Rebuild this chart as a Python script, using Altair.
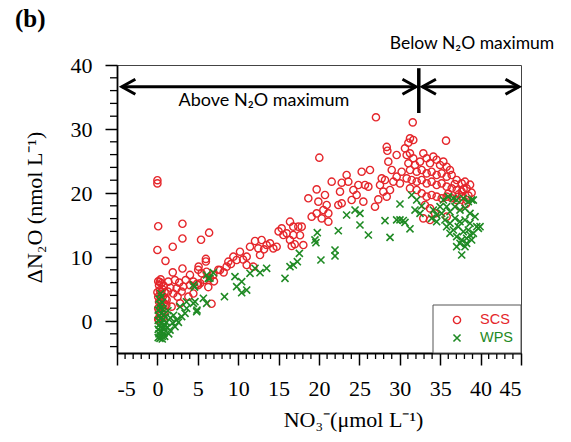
import altair as alt
import pandas as pd

# ---------------- data ----------------
scs_no3 = [
    0.0, 0.0, 0.1, 0.0, 1.0, 1.9, 3.1, 3.1, 5.4, 6.4, 1.9, 3.1, 6.0, 6.0, 5.1, 6.7,
    0.1, 0.3, 0.2, 0.5, 0.1, 0.4, 0.6, 0.2, 0.5, 0.8, 0.1, 0.4, 0.7, 0.3, 0.6, 0.2,
    0.5, 0.1, 0.8, 0.9, 1.0, 1.1, 0.9, 0.2, 0.4, 0.0, 0.7, 0.3,
    1.35, 2.17, 2.38, 3.2, 4.03, 4.03, 4.45, 3.83, 2.8, 1.97, 1.14, 1.76, 5.05, 5.47,
    6.08, 6.5, 6.92, 7.54, 4.45, 5.05, 4.9, 5.3, 6.3, 2.7, 3.5, 1.6, 2.5, 3.0, 1.3,
    5.8, 7.0,
    7.75, 8.57, 8.78, 9.4, 9.81, 10.22, 8.2, 9.1,
    12.08, 12.9, 11.46, 12.49, 13.52, 14.35, 12.7, 11.05, 11.05, 15.38, 16.41, 16.82,
    17.44, 17.86, 15.59, 16.41, 16.82, 16.62, 18.06, 11.87, 13.94, 14.76, 16.0, 17.65,
    17.0, 15.0, 10.6, 13.2,
    18.68, 19.71, 20.74, 19.92, 20.95, 19.09, 19.71, 20.54, 21.16, 20.33, 21.16, 21.57,
    22.6, 22.39, 22.81, 23.42, 22.81, 23.63, 24.25, 24.66, 24.04, 25.28, 24.87, 25.49,
    25.69, 20.04,
    27.05, 31.6, 35.72, 31.26, 31.67, 31.06, 28.38, 28.46,
    30.85, 31.26, 31.67, 31.06, 31.88, 32.5, 32.91, 33.32, 33.74, 34.15, 34.56, 34.98,
    35.39, 35.8, 36.21, 31.26, 32.09, 32.71, 33.32, 33.94, 34.56, 35.18, 35.8, 36.42,
    37.04, 37.66, 38.07, 30.85, 31.47, 32.09, 32.71, 33.32, 33.94, 34.56, 35.18, 35.8,
    36.42, 37.04, 37.66, 38.27, 38.89, 31.26, 32.09, 32.71, 33.32, 33.94, 34.56, 35.18,
    35.8, 36.42, 37.04, 37.66, 38.27, 33.12, 33.74, 32.91, 33.74, 34.36, 35.8,
    29.2, 29.61, 30.02, 28.79, 28.17, 27.76, 27.55, 27.96, 28.38, 26.93, 27.34,
    26.11, 26.31, 29.0, 30.23, 30.64, 28.58, 29.61,
    37.3, 37.9, 38.5, 38.7, 36.8, 36.0, 38.2, 37.4,
]
scs_dn2o = [
    22.0, 21.5, 14.8, 11.1, 9.4, 11.6, 15.2, 12.9, 12.7, 13.8, 7.6, 8.2, 9.7, 9.3, 8.5, 2.7,
    0.3, 0.8, 1.5, 1.2, 2.0, 2.4, 2.0, 3.0, 3.3, 2.8, 3.8, 4.2, 3.9, 4.8, 5.0, 5.6,
    5.9, 6.2, 5.5, 4.5, 3.5, 2.5, 1.5, 0.0, 6.5, 4.5, 0.5, 6.1,
    6.15, 6.4, 5.1, 5.4, 7.2, 5.6, 6.15, 3.8, 2.76, 4.3, 3.3, 2.24, 8.0, 7.45,
    7.7, 6.7, 7.2, 8.0, 4.3, 5.6, 5.8, 5.9, 5.3, 6.0, 6.4, 5.2, 3.8, 4.6, 4.6,
    6.4, 6.2,
    7.97, 8.49, 9.27, 10.05, 9.53, 10.83, 7.6, 8.9,
    12.5, 12.66, 11.61, 11.35, 11.87, 11.35, 10.31, 10.05, 8.75, 14.48, 15.52, 14.74,
    14.74, 14.74, 13.44, 12.66, 13.44, 11.72, 11.87, 8.49, 12.14, 11.6, 13.7, 13.4,
    12.0, 14.0, 9.6, 11.2,
    19.17, 20.57, 19.69, 18.65, 18.13, 16.3, 16.82, 17.34, 16.82, 16.04, 15.52, 21.77,
    20.21, 18.13, 18.39, 22.81, 21.61, 21.77, 20.47, 19.69, 18.91, 23.33, 21.25, 18.65,
    21.25, 25.52,
    31.83, 31.04, 28.18, 28.54, 28.28, 27.86, 27.2, 26.6,
    25.94, 26.2, 25.42, 24.64, 24.38, 24.9, 26.2, 25.42, 24.64, 25.68, 25.2, 24.38,
    24.9, 24.11, 23.59, 23.59, 23.33, 23.59, 23.07, 23.33, 22.81, 23.07, 22.55, 22.81,
    22.03, 21.51, 21.77, 22.29, 22.03, 21.77, 22.03, 21.51, 21.77, 21.25, 21.51, 20.99,
    20.73, 20.47, 20.21, 20.73, 20.05, 20.73, 20.47, 19.95, 19.43, 19.69, 19.43, 19.17,
    19.43, 19.17, 18.91, 19.43, 18.91, 18.13, 17.6, 16.04, 15.78, 16.82, 16.3,
    21.77, 22.55, 21.51, 20.47, 22.03, 22.29, 21.25, 20.21, 19.43, 17.86, 19.01,
    20.99, 23.59, 23.59, 23.33, 26.98, 24.9, 25.94,
    19.8, 20.6, 19.6, 21.3, 21.4, 19.9, 18.3, 17.9,
]
wps_no3 = [
    0.32, 0.1, 0.6, 0.2, 0.5, 0.8, 0.1, 0.4, 0.7, 0.2, 0.5, 0.9, 0.1, 0.4, 0.7, 0.2,
    0.5, 0.8, 0.1, 0.4, 0.7, 0.3, 0.6, 0.2, 0.5, 0.4, 0.9, 1.0, 1.1, 0.6, 0.3, 0.8,
    1.56, 2.18, 2.38, 3.0, 3.42, 3.62, 1.4, 1.6, 2.0, 2.8, 3.6, 1.3, 1.9, 2.6, 1.2,
    4.45, 4.86, 4.65, 5.69, 6.1, 4.45, 4.6, 6.1, 6.3, 6.92, 6.5, 4.9, 8.3,
    9.6, 9.81, 10.43, 11.05, 10.43, 12.08, 13.52, 11.46, 12.7, 15.79, 16.41, 16.82,
    17.32, 17.57, 19.5, 19.62, 19.79, 20.24, 21.98, 21.98, 22.39, 23.42, 24.46, 25.07,
    25.07, 26.11,
    28.17, 28.79, 30.02, 29.61, 30.02, 30.43, 30.64, 31.26, 31.47, 32.09, 32.71, 31.88,
    32.5,
    34.15, 34.56, 33.94, 34.98, 35.39, 36.0, 36.62, 37.04, 37.86, 38.48, 38.89, 34.56,
    35.18, 35.8, 36.21, 36.83, 37.45, 38.07, 38.69, 39.31, 35.59, 36.21, 36.83, 37.45,
    38.07, 38.69, 39.52, 35.8, 36.62, 37.24, 37.86, 38.48, 39.1, 37.04, 37.66, 38.27,
    38.89, 37.45, 38.07, 37.04, 37.66, 38.27, 36.21, 39.72, 38.69, 39.93, 39.1,
]
wps_dn2o = [
    -2.7, -2.6, -2.4, -2.0, -1.7, -1.9, -1.3, -1.0, -1.2, -0.6, -0.3, -0.6, 0.1, 0.4, 0.2, 0.9,
    1.2, 1.0, 1.7, 2.0, 1.8, 2.6, 2.9, 3.4, 3.8, 4.3, -2.4, 0.6, -0.2, -2.8, -1.6, -0.9,
    -1.41, -0.89, 0.16, 0.68, 1.2, 1.98, -2.0, 0.5, 0.9, 2.24, 3.0, 1.6, -0.3, -0.2, -1.0,
    2.76, 1.46, 3.02, 3.54, 2.76, 5.63, 5.3, 7.19, 6.67, 7.55, 6.7, 1.7, 3.8,
    6.93, 5.37, 6.14, 4.83, 4.42, 8.23, 8.23, 7.45, 7.55, 6.67, 8.49, 8.75,
    9.27, 10.57, 12.66, 12.24, 13.8, 9.53, 11.09, 10.16, 14.1, 16.56, 17.34, 16.82,
    15.0, 13.44,
    15.67, 13.07, 18.28, 15.8, 15.8, 15.7, 15.4, 14.4, 19.69, 18.91, 17.97, 17.34,
    16.82,
    17.34, 16.56, 16.04, 17.86, 18.91, 19.43, 19.17, 18.91, 19.17, 18.65, 18.91, 15.52,
    16.82, 17.86, 17.08, 17.86, 17.34, 17.6, 16.82, 16.3, 15.78, 15.26, 16.04, 15.52,
    15.78, 15.26, 14.74, 14.74, 14.22, 14.74, 13.96, 14.22, 13.7, 13.18, 12.66, 12.92,
    12.66, 12.14, 11.61, 11.61, 10.31, 12.14, 13.7, 14.48, 13.44, 14.74, 18.9,
]

series_names = ["SCS", "WPS"]
x_ticks = [-5, 0, 5, 10, 15, 20, 25, 30, 35, 40, 45]
y_ticks = [0, 10, 20, 30, 40]
x_minor = [v for v in range(-5, 46) if v % 5 != 0]
y_minor = [v for v in range(-4, 40, 2) if v % 10 != 0]

# annotation anchors (data units)
arrow_y = 36.6
left_arrow = (-4.4, 32.0)
right_arrow = (32.8, 44.75)
divider_x = 32.35
divider_y = (39.5, 32.5)

RED = "#e5262b"
GREEN = "#1f8a24"
SERIF = "Liberation Serif"
SANS = "Lato"

scs_df = pd.DataFrame({"no3": scs_no3, "dn2o": scs_dn2o})
wps_df = pd.DataFrame({"no3": wps_no3, "dn2o": wps_dn2o})

xs = alt.Scale(domain=[-5, 45], nice=False, zero=False)
ys = alt.Scale(domain=[-5, 40], nice=False, zero=False)

x_axis = alt.Axis(
    values=x_ticks, tickSize=12, labelPadding=13, labelExpr="'' + datum.value",
    title="NO₃⁻(μmol L⁻¹)", titleX=236, titleY=73, titleBaseline="alphabetic",
    titleAnchor="middle", titleAlign="center",
)
y_axis = alt.Axis(
    values=y_ticks, tickSize=12, labelPadding=13, labelExpr="'' + datum.value",
    title="ΔN₂O (nmol L⁻¹)", titleX=-83, titleY=142, titleAngle=270,
    titleAlign="center", titleBaseline="middle",
)

X = lambda: alt.X("no3:Q", scale=xs)
Y = lambda: alt.Y("dn2o:Q", scale=ys)

CSIZE = 52
XSIZE = 50

scs = alt.Chart(scs_df).mark_point(
    shape="circle", filled=False, size=CSIZE, strokeWidth=1.4, color=RED, opacity=1
).encode(
    x=alt.X("no3:Q", scale=xs, axis=x_axis),
    y=alt.Y("dn2o:Q", scale=ys, axis=y_axis),
)

XSHAPE = "M-1,-1L1,1M-1,1L1,-1"
wps = alt.Chart(wps_df).mark_point(
    shape=XSHAPE, filled=False, size=XSIZE, strokeWidth=1.6, color=GREEN, opacity=1
).encode(x=X(), y=Y())

xminor = alt.Chart(pd.DataFrame({"no3": x_minor})).mark_rule(color="black", strokeWidth=1.3).encode(
    x=X(), y=alt.value(288), y2=alt.value(294)
)
yminor = alt.Chart(pd.DataFrame({"dn2o": y_minor})).mark_rule(color="black", strokeWidth=1.3).encode(
    y=Y(), x=alt.value(-7), x2=alt.value(0)
)

shaft_df = pd.DataFrame({
    "no3": [left_arrow[0], right_arrow[0]],
    "no3_end": [left_arrow[1], right_arrow[1]],
    "dn2o": [arrow_y, arrow_y],
})
shafts = alt.Chart(shaft_df).mark_rule(color="black", strokeWidth=3).encode(
    x=X(), x2="no3_end:Q", y=Y()
)
lhead_df = pd.DataFrame({"no3": [left_arrow[0], right_arrow[0]], "dn2o": [arrow_y, arrow_y]})
rhead_df = pd.DataFrame({"no3": [left_arrow[1], right_arrow[1]], "dn2o": [arrow_y, arrow_y]})
lheads = alt.Chart(lhead_df).mark_point(
    shape="M1.8,-1L0,0L1.8,1", filled=False, size=225, strokeWidth=3, color="black",
    opacity=1, strokeJoin="miter"
).encode(x=X(), y=Y())
rheads = alt.Chart(rhead_df).mark_point(
    shape="M-1.8,-1L0,0L-1.8,1", filled=False, size=225, strokeWidth=3, color="black",
    opacity=1, strokeJoin="miter"
).encode(x=X(), y=Y())

vline = alt.Chart(pd.DataFrame({"no3": [divider_x], "dn2o": [divider_y[0]], "dn2o_end": [divider_y[1]]})).mark_rule(
    color="black", strokeWidth=3.5
).encode(x=X(), y=Y(), y2="dn2o_end:Q")

one = pd.DataFrame({"a": [0]})
above_txt = alt.Chart(one).mark_text(
    text="Above N₂O maximum", font=SANS, fontSize=18, color="black", align="center", baseline="middle"
).encode(x=alt.value(147), y=alt.value(36))
below_txt = alt.Chart(one).mark_text(
    text="Below N₂O maximum", font=SANS, fontSize=17.5, color="black", align="center", baseline="middle"
).encode(x=alt.value(355), y=alt.value(-21))
b_txt = alt.Chart(one).mark_text(
    text="(b)", font=SERIF, fontSize=25, fontWeight="bold", color="black", align="left", baseline="middle"
).encode(x=alt.value(-102), y=alt.value(-46))

leg_box = alt.Chart(one).mark_rect(fill="white", stroke="#555555", strokeWidth=1).encode(
    x=alt.value(316), x2=alt.value(404), y=alt.value(240), y2=alt.value(288)
)
leg_c = alt.Chart(one).mark_point(shape="circle", filled=False, size=CSIZE, strokeWidth=1.4, color=RED, opacity=1).encode(
    x=alt.value(340), y=alt.value(255)
)
leg_x = alt.Chart(one).mark_point(shape=XSHAPE, filled=False, size=XSIZE, strokeWidth=1.6, color=GREEN, opacity=1).encode(
    x=alt.value(340), y=alt.value(273)
)
leg_t1 = alt.Chart(one).mark_text(text=series_names[0], font="Liberation Sans", fontSize=14.5, color=RED,
                                  align="left", baseline="middle").encode(x=alt.value(363), y=alt.value(255))
leg_t2 = alt.Chart(one).mark_text(text=series_names[1], font="Liberation Sans", fontSize=14.5, color=GREEN,
                                  align="left", baseline="middle").encode(x=alt.value(363), y=alt.value(273))

chart = alt.layer(
    scs, wps, xminor, yminor, shafts, lheads, rheads, vline, above_txt, below_txt, b_txt,
    leg_box, leg_c, leg_x, leg_t1, leg_t2
).properties(
    width=404, height=288, autosize="none",
    padding={"left": 117, "top": 65, "right": 50, "bottom": 89},
    background="white",
).configure_view(
    stroke="#444444", strokeWidth=1
).configure_axis(
    domainColor="black", domainWidth=1.8, tickColor="black", tickWidth=1.5,
    labelFont=SERIF, labelFontSize=22, labelColor="black",
    titleFont=SERIF, titleFontSize=22, titleColor="black", titleFontWeight="normal",
    grid=False,
)

chart.save("out.html", embed_options={"renderer": "svg", "actions": False})
